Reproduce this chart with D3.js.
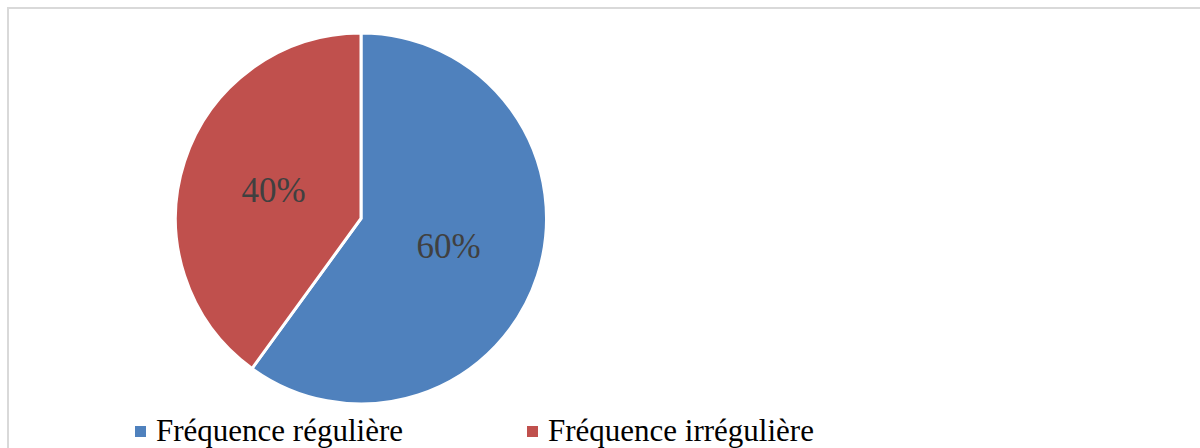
<!DOCTYPE html>
<html>
<head>
<meta charset="utf-8">
<script src="https://cdn.jsdelivr.net/npm/d3@7"></script>
<style>
  html, body { margin: 0; padding: 0; background: #ffffff; }
  svg { display: block; }
</style>
</head>
<body>
<svg id="chart" width="1200" height="448"></svg>
<script>
// Share of attendance frequency
const categories = ["Fréquence régulière", "Fréquence irrégulière"];
const values = [60, 40];
const colors = ["#4f81bd", "#c0504d"];

const svg = d3.select("#chart");
const W = 1200, H = 448;

// chart frame (open on the right and bottom edges)
svg.append("rect")
  .attr("x", 8).attr("y", 8)
  .attr("width", W).attr("height", H)
  .attr("fill", "none")
  .attr("stroke", "#d9d9d9")
  .attr("stroke-width", 2);

const cx = 361, cy = 218.5, R = 185.5;

const pie = d3.pie().sort(null).value(d => d)(values);
const arc = d3.arc().innerRadius(0).outerRadius(R);
const labelArc = d3.arc().innerRadius(0).outerRadius(184);

const g = svg.append("g").attr("transform", `translate(${cx},${cy})`);

g.selectAll("path.slice")
  .data(pie)
  .join("path")
  .attr("class", "slice")
  .attr("d", arc)
  .attr("fill", (d, i) => colors[i])
  .attr("stroke", "#ffffff")
  .attr("stroke-width", 3)
  .attr("stroke-linejoin", "miter");

g.selectAll("text.pct")
  .data(pie)
  .join("text")
  .attr("class", "pct")
  .attr("transform", d => `translate(${labelArc.centroid(d)})`)
  .attr("text-anchor", "middle")
  .attr("dominant-baseline", "central")
  .attr("font-family", "'Liberation Serif', 'Times New Roman', serif")
  .attr("font-size", 35)
  .attr("fill", "#404040")
  .text(d => d.data + "%");

// legend
const legendX = [135, 527];
const lg = svg.append("g")
  .selectAll("g")
  .data(categories)
  .join("g")
  .attr("transform", (d, i) => `translate(${legendX[i]},0)`);

lg.append("rect")
  .attr("x", 0).attr("y", 426)
  .attr("width", 11).attr("height", 11)
  .attr("fill", (d, i) => colors[i]);

lg.append("text")
  .attr("x", 21).attr("y", 441)
  .attr("font-family", "'Liberation Serif', 'Times New Roman', serif")
  .attr("font-size", 31)
  .attr("fill", "#000000")
  .text(d => d);
</script>
</body>
</html>
